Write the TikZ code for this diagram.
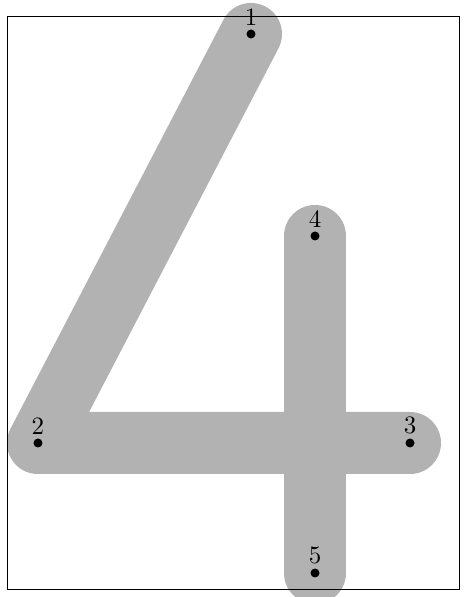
\documentclass[tikz,border=0pt]{standalone}
\begin{document}
\begin{tikzpicture}[x=0.4pt,y=0.4pt]
\tikzset{stroke/.style={line width=24.8pt,gray!60,line cap=round,line join=round}}
\useasboundingbox (0,0) rectangle (467,597);
\coordinate (p1) at (251,563);
\coordinate (p2) at (38,154);
\coordinate (p3) at (410,154);
\coordinate (p4) at (315,361);
\coordinate (p5) at (315,24);

\draw[stroke] (p1) -- (p2) -- (p3);
\draw[stroke] (p4) -- (p5);

\draw (7,7) rectangle (459,580);

\foreach \i in {1,...,5}
  \fill (p\i) circle (1.8pt) node[above] (n\i) {\i};
\end{tikzpicture}
\end{document}
